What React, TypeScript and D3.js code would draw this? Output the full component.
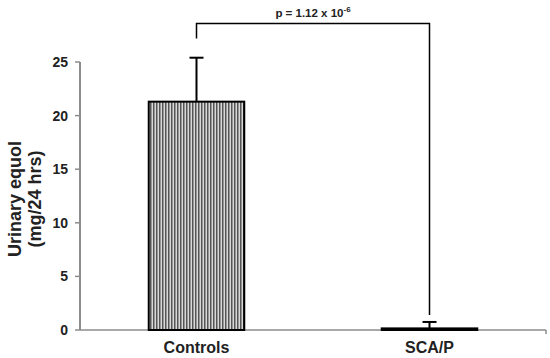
import React from 'react';
import * as d3 from 'd3';

const categories = ['Controls', 'SCA/P'];
const means = [21.3, 0.15];
const errors = [4.1, 0.6];
const yTicks = [0, 5, 10, 15, 20, 25];
const pLabel = 'p = 1.12 x 10';
const pExp = '-6';
// bracket levels in data units: top, left end, right end
const bracketLevels = [28.6, 27.2, 1.4];

export default function App() {
  const width = 550,
    height = 358,
    margin = { top: 0, right: 4, bottom: 28, left: 80 };

  const x = d3
    .scaleBand<string>()
    .domain(categories)
    .range([margin.left, width - margin.right]);

  const y = d3.scaleLinear().domain([0, 25]).range([330, 62]);
  const barW = x.bandwidth() * 0.41;
  const cx = (c: string) => (x(c) as number) + x.bandwidth() / 2;

  const axisColor = '#8c8c8c';
  const font = 'Liberation Sans, Arial, sans-serif';

  const bx0 = cx(categories[0]),
    bx1 = cx(categories[1]);

  return (
    <svg width={width} height={height} style={{ position: 'absolute', left: 0, top: 0 }}>
      <defs>
        <pattern id="stripes" width="3" height="4" patternUnits="userSpaceOnUse">
          <rect width="3" height="4" fill="#d8d8d8" />
          <rect width="1.5" height="4" fill="#555" />
        </pattern>
      </defs>
      <rect width={width} height={height} fill="#fff" />

      {/* y axis */}
      <line x1={margin.left} x2={margin.left} y1={y(25)} y2={y(0)} stroke={axisColor} strokeWidth={2} />
      {yTicks.map((t) => (
        <g key={t}>
          <line x1={margin.left - 5} x2={margin.left} y1={y(t)} y2={y(t)} stroke={axisColor} strokeWidth={1.5} />
          <text
            x={margin.left - 12}
            y={y(t)}
            dy="0.36em"
            textAnchor="end"
            fontFamily={font}
            fontWeight="bold"
            fontSize={14}
            fill="#222"
          >
            {t}
          </text>
        </g>
      ))}

      {/* x axis */}
      <line x1={margin.left} x2={width - margin.right} y1={y(0)} y2={y(0)} stroke={axisColor} strokeWidth={1.5} />
      <line x1={width - margin.right} x2={width - margin.right} y1={y(0)} y2={y(0) + 4} stroke={axisColor} strokeWidth={1.5} />

      {/* bars */}
      {categories.map((c, i) => (
        <g key={c}>
          <line
            x1={cx(c)}
            x2={cx(c)}
            y1={y(means[i])}
            y2={y(means[i] + errors[i])}
            stroke="#000"
            strokeWidth={2}
          />
          <line
            x1={cx(c) - 7}
            x2={cx(c) + 7}
            y1={y(means[i] + errors[i])}
            y2={y(means[i] + errors[i])}
            stroke="#000"
            strokeWidth={2}
          />
          <rect
            x={cx(c) - barW / 2}
            y={y(means[i])}
            width={barW}
            height={y(0) - y(means[i])}
            fill="url(#stripes)"
            stroke="#000"
            strokeWidth={2}
          />
          <text
            x={cx(c)}
            y={353}
            textAnchor="middle"
            fontFamily={font}
            fontWeight="bold"
            fontSize={16}
            fill="#222"
          >
            {c}
          </text>
        </g>
      ))}

      {/* significance bracket */}
      <path
        d={`M${bx0},${y(bracketLevels[1])}V${y(bracketLevels[0])}H${bx1}V${y(bracketLevels[2])}`}
        fill="none"
        stroke="#000"
        strokeWidth={1.5}
      />
      <text
        x={(bx0 + bx1) / 2}
        y={17}
        textAnchor="middle"
        fontFamily={font}
        fontWeight="bold"
        fontSize={11.5}
        fill="#222"
      >
        {pLabel}
        <tspan dy={-5} fontSize={8}>
          {pExp}
        </tspan>
      </text>

      {/* y label */}
      <text
        transform={`translate(22,199) rotate(-90)`}
        textAnchor="middle"
        fontFamily={font}
        fontWeight="bold"
        fontSize={18}
        fill="#222"
      >
        <tspan x={0} dy={-1}>Urinary equol</tspan>
        <tspan x={0} dy={20}>(mg/24 hrs)</tspan>
      </text>
    </svg>
  );
}
